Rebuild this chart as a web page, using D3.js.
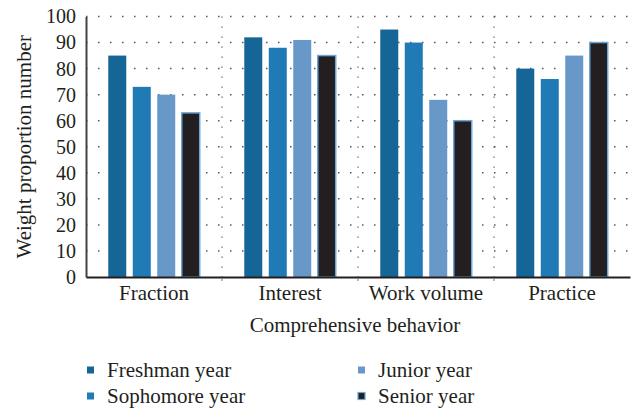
<!DOCTYPE html>
<html>
<head>
<meta charset="utf-8">
<script src="https://cdn.jsdelivr.net/npm/d3@7"></script>
<style>
  body { margin: 0; background: #fff; }
</style>
</head>
<body>
<svg id="chart" width="635" height="409" font-family="Liberation Serif"></svg>
<script>
// data
const categories = ['Fraction', 'Interest', 'Work volume', 'Practice'];
const seriesNames = ['Freshman year', 'Sophomore year', 'Junior year', 'Senior year'];
const freshman = [85, 92, 95, 80];
const sophomore = [73, 88, 90, 76];
const junior = [70, 91, 68, 85];
const senior = [63, 85, 60, 90];
const yTicks = [0, 10, 20, 30, 40, 50, 60, 70, 80, 90, 100];
const colors = ['#156697', '#1f7ab5', '#6898c8', '#231f20'];

const seriesValues = [freshman, sophomore, junior, senior];
const FONT = 'Liberation Serif';
const ink = '#231f20';

const svg = d3.select('#chart');
const plotLeft = 86, plotRight = 630, plotTop = 16.5, plotBottom = 277;

const x0 = d3.scaleBand().domain(categories).range([plotLeft, plotRight]).padding(0);
const x1 = d3.scaleBand().domain(seriesNames).range([0, x0.bandwidth()])
  .paddingInner(0.265).paddingOuter(0.91);
const y = d3.scaleLinear().domain([0, 100]).range([plotBottom, plotTop]);

// dotted horizontal grid
svg.append('g').selectAll('line')
  .data(yTicks.filter(d => d > 0))
  .enter().append('line')
  .attr('x1', plotLeft).attr('x2', plotRight)
  .attr('y1', d => y(d)).attr('y2', d => y(d))
  .attr('stroke', '#555')
  .attr('stroke-width', 1.5)
  .attr('stroke-dasharray', '1.5,10.5');

// dotted vertical separators between categories
svg.append('g').selectAll('line')
  .data(categories.slice(1))
  .enter().append('line')
  .attr('x1', d => x0(d)).attr('x2', d => x0(d))
  .attr('y1', plotTop).attr('y2', plotBottom)
  .attr('stroke', '#555')
  .attr('stroke-width', 1.2)
  .attr('stroke-dasharray', '1.2,8.8');

// bars
const groups = svg.append('g').selectAll('g')
  .data(categories)
  .enter().append('g')
  .attr('transform', d => 'translate(' + x0(d) + ',0)');

groups.selectAll('rect')
  .data((c, ci) => seriesNames.map((s, si) => ({s: s, si: si, v: seriesValues[si][ci]})))
  .enter().append('rect')
  .attr('x', d => x1(d.s))
  .attr('width', x1.bandwidth())
  .attr('y', d => y(d.v))
  .attr('height', d => plotBottom - y(d.v))
  .attr('fill', d => colors[d.si])
  .attr('stroke', d => d.si === 3 ? '#6aa6d6' : 'none')
  .attr('stroke-width', 1.5);

// axes
const yAxis = svg.append('g')
  .attr('transform', 'translate(' + plotLeft + ',0)')
  .call(d3.axisLeft(y).tickValues(yTicks).tickSize(0).tickPadding(10))
  .attr('font-family', FONT)
  .attr('font-size', 20);
yAxis.select('.domain').attr('stroke', '#444').attr('stroke-width', 2);
yAxis.selectAll('text').attr('fill', ink);

const xAxis = svg.append('g')
  .attr('transform', 'translate(0,' + plotBottom + ')')
  .call(d3.axisBottom(x0).tickSize(0).tickPadding(8))
  .attr('font-family', FONT)
  .attr('font-size', 21);
xAxis.select('.domain').attr('stroke', ink).attr('stroke-width', 2);
xAxis.selectAll('text').attr('fill', ink);

// small marks at category boundaries under x axis
svg.append('g').selectAll('line')
  .data(categories.slice(1))
  .enter().append('line')
  .attr('x1', d => x0(d)).attr('x2', d => x0(d))
  .attr('y1', plotBottom + 1).attr('y2', plotBottom + 4)
  .attr('stroke', '#777').attr('stroke-width', 1);

// axis titles
svg.append('text')
  .attr('x', 355).attr('y', 332)
  .attr('text-anchor', 'middle')
  .attr('fill', ink)
  .attr('font-family', FONT)
  .attr('font-size', 21)
  .text('Comprehensive behavior');

svg.append('text')
  .attr('transform', 'translate(31,' + ((plotTop + plotBottom) / 2) + ') rotate(-90)')
  .attr('text-anchor', 'middle')
  .attr('fill', ink)
  .attr('font-family', FONT)
  .attr('font-size', 21)
  .text('Weight proportion number');

// legend
const legendPos = [[87, 370], [87, 396], [358, 370], [358, 396]];
const legend = svg.append('g').selectAll('g')
  .data(seriesNames)
  .enter().append('g')
  .attr('transform', (d, i) => 'translate(' + legendPos[i][0] + ',' + legendPos[i][1] + ')');

legend.append('rect')
  .attr('x', 0).attr('y', -3.5)
  .attr('width', 7).attr('height', 7)
  .attr('fill', (d, i) => colors[i])
  .attr('stroke', (d, i) => i === 3 ? '#6aa6d6' : 'none')
  .attr('stroke-width', 1.2);

legend.append('text')
  .attr('x', 20).attr('y', 0).attr('dy', '0.32em')
  .attr('fill', ink)
  .attr('font-family', FONT)
  .attr('font-size', 21)
  .text(d => d);
</script>
</body>
</html>
